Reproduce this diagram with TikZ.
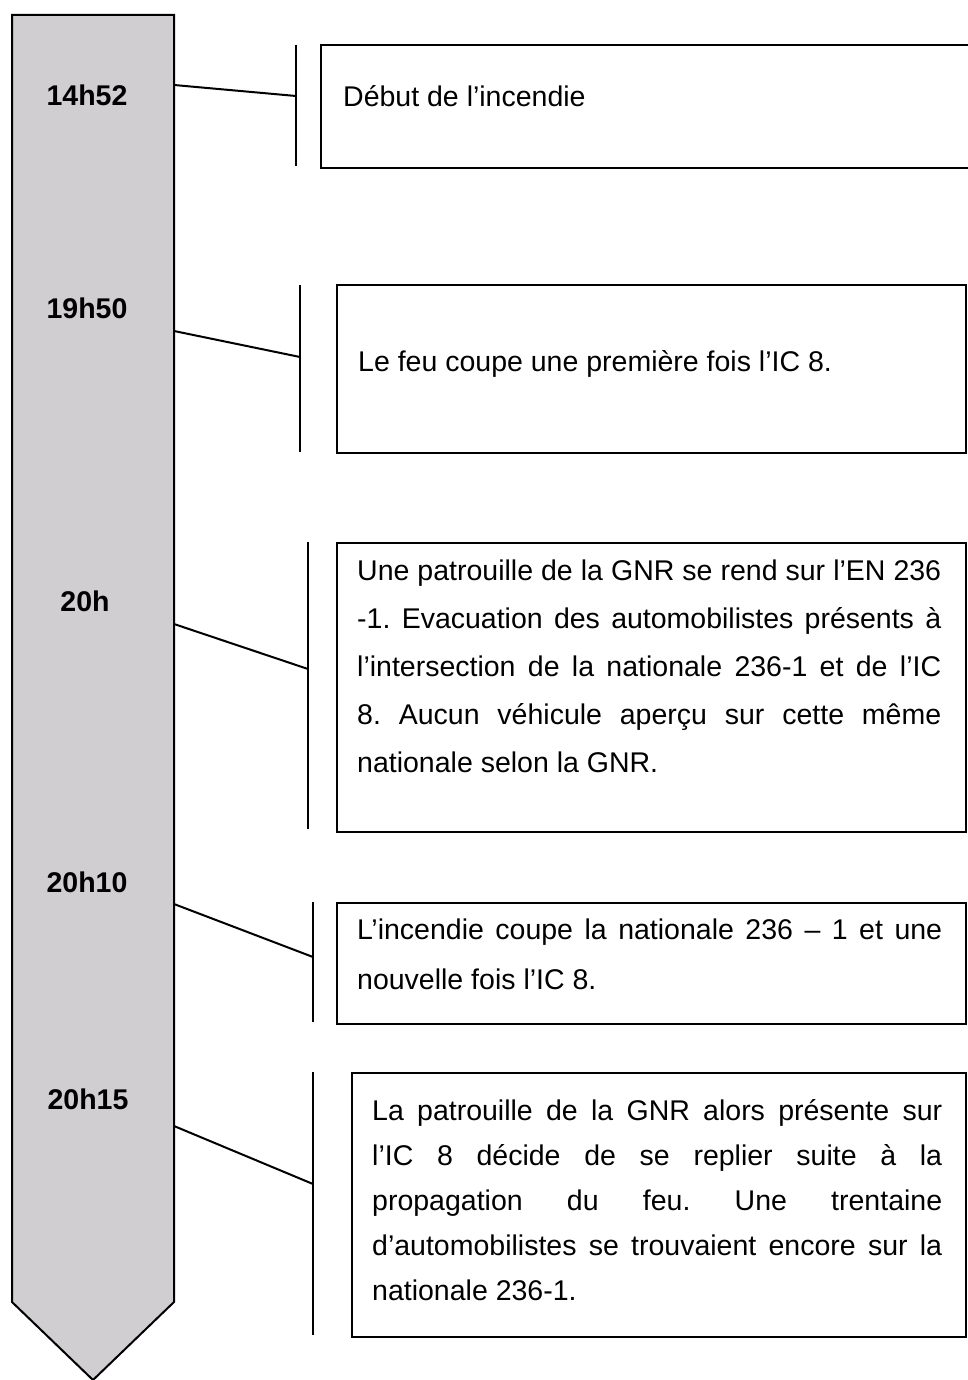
\documentclass[tikz,border=0pt]{standalone}
\usepackage{fontspec}
\setmainfont{Liberation Sans}
\definecolor{grisfleche}{RGB}{208,206,208}
\frenchspacing

\begin{document}
\begin{tikzpicture}[x=1pt,y=-1pt,
    trait/.style={line width=2pt},
    heure/.style={font=\bfseries\fontsize{28.5}{34}\selectfont, inner sep=0pt},
    boite/.style={draw, line width=2pt, inner sep=0pt, anchor=north west},
    texte/.style={font=\fontsize{28.5}{48}\selectfont, inner sep=0pt,
        anchor=base west, align=justify}]

    \useasboundingbox (0,0) rectangle (968,1380);
    \hyphenpenalty=10000 \exhyphenpenalty=10000

    % -------------------------------
    % Flèche du temps
    % -------------------------------
    \draw[trait, fill=grisfleche] (12,15) -- (174,15) -- (174,1302) -- (93,1380) -- (12,1302) -- cycle;

    \node[heure] (h1) at (87,95)   {14h52};
    \node[heure] (h2) at (87,308)  {19h50};
    \node[heure] (h3) at (85,601)  {20h};
    \node[heure] (h4) at (87,882)  {20h10};
    \node[heure] (h5) at (88,1099) {20h15};

    % -------------------------------
    % Traits de rappel
    % -------------------------------
    \foreach \n/\yd/\xb/\yb/\yh/\ybas in {1/85/296/96/45/166, 2/331/300/357/285/452,
        3/624/308/669/542/829, 4/904/313/957/902/1022, 5/1126/313/1184/1072/1335} {
        \coordinate (d\n) at (174,\yd);
        \coordinate (b\n) at (\xb,\yb);
        \coordinate (bh\n) at (\xb,\yh);
        \coordinate (bb\n) at (\xb,\ybas);
        \draw[trait] (bh\n) -- (bb\n);
        \draw[trait] (d\n) -- (b\n);
    }

    % -------------------------------
    % Cadres des événements
    % -------------------------------
    \node[boite, minimum width=660, minimum height=123] (e1) at (320,44) {};
    \node[boite, minimum width=629, minimum height=168] (e2) at (336,284) {};
    \node[boite, minimum width=629, minimum height=289] (e3) at (336,542) {};
    \node[boite, minimum width=629, minimum height=121] (e4) at (336,902) {};
    \node[boite, minimum width=614, minimum height=264] (e5) at (351,1072) {};

    \node[texte] (t1) at (343,107) {Début de l’incendie};
    \node[texte] (t2) at (358,371) {Le feu coupe une première fois l’IC 8.};
    \node[texte, text width=584] (t3) at (357,580) {Une patrouille de la GNR se rend sur l’EN 236\linebreak
        -1. Evacuation des automobilistes présents à\linebreak
        l’intersection de la nationale 236-1 et de l’IC\linebreak
        8. Aucun véhicule aperçu sur cette même\linebreak
        nationale selon la GNR.};
    \node[texte, text width=585, font=\fontsize{28.5}{50}\selectfont] (t4) at (357,939) {L’incendie coupe la nationale 236 – 1 et une\linebreak
        nouvelle fois l’IC 8.};
    \node[texte, text width=570, font=\fontsize{28.5}{45}\selectfont] (t5) at (372,1120) {La patrouille de la GNR alors présente sur\linebreak
        l’IC 8 décide de se replier suite à la\linebreak
        propagation du feu. Une trentaine\linebreak
        d’automobilistes se trouvaient encore sur la\linebreak
        nationale 236-1.};

\end{tikzpicture}
\end{document}
